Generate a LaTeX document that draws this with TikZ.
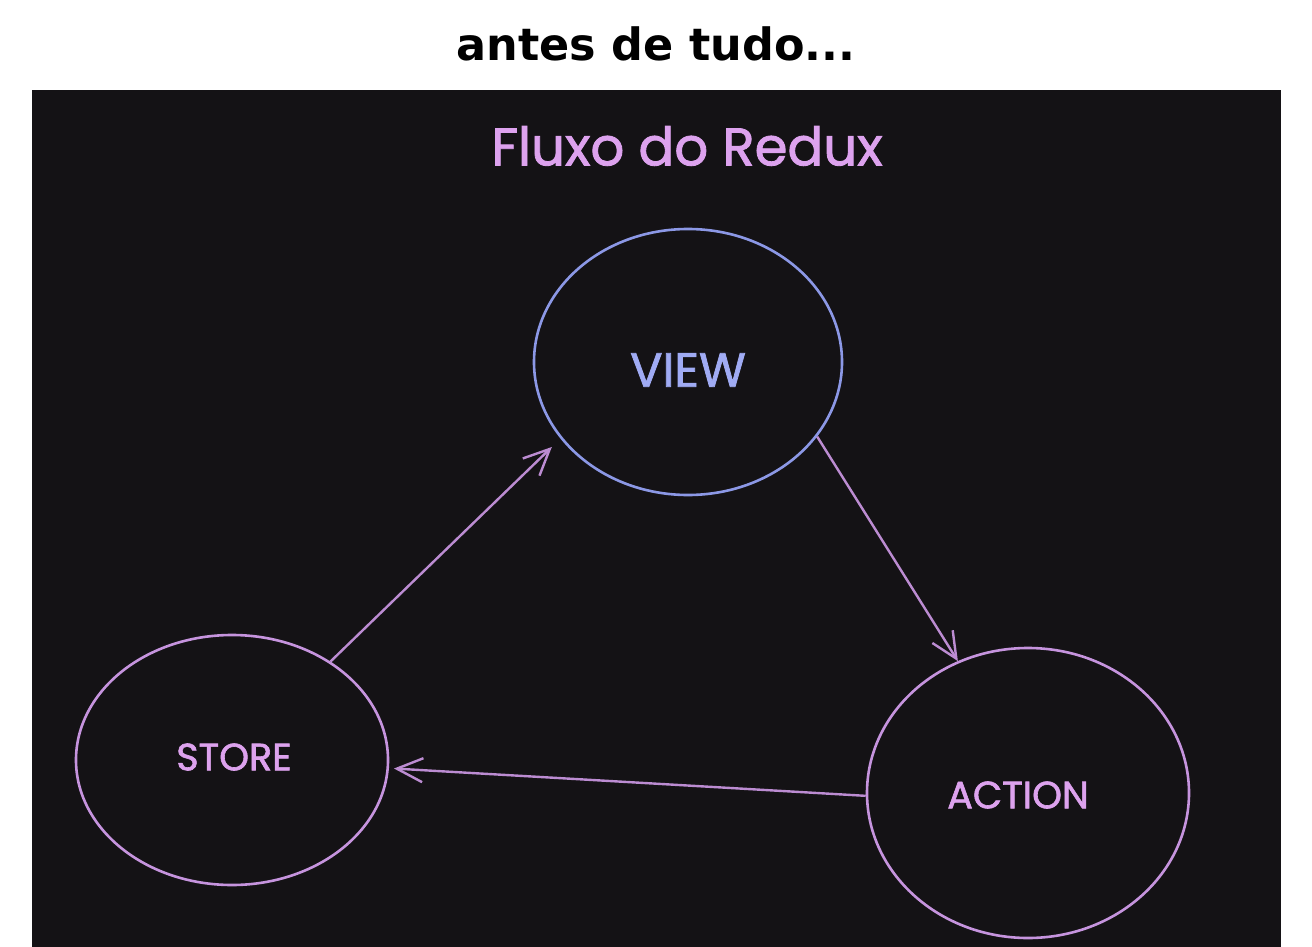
\documentclass[tikz,border=0pt]{standalone}
\usepackage{fontspec}
\setmainfont{DejaVu Sans}
\newfontfamily\handfont[FakeBold=1.6]{Poppins}
\usetikzlibrary{shapes.geometric,arrows.meta}
\definecolor{bgdark}{HTML}{141215}
\definecolor{pinktext}{HTML}{DDA2EE}
\definecolor{pinkline}{HTML}{C694DE}
\definecolor{arrowcol}{HTML}{BC8CD2}
\definecolor{bluetext}{HTML}{A0ABF4}
\definecolor{blueline}{HTML}{8C98E6}
\tikzset{
  bubble/.style={ellipse, draw=pinkline, line width=2.6pt, inner sep=0pt},
  lbl/.style={font=\handfont\fontsize{38}{40}\selectfont, text=pinktext, inner sep=0pt},
  flow/.style={draw=arrowcol, line width=2.4pt, -{Straight Barb[length=26pt,width=24pt,line width=2.4pt]}}
}
\begin{document}
\begin{tikzpicture}[x=1pt,y=-1pt]
\useasboundingbox (0,0) rectangle (1312,947);
\fill[white] (0,0) rectangle (1312,947);
\fill[bgdark] (32,90) rectangle (1281,947);
\node[font=\bfseries\fontsize{44.5}{46}\selectfont, inner sep=0pt] (title) at (656,44) {antes de tudo...};
\node[font=\handfont\fontsize{53}{56}\selectfont, text=pinktext, inner sep=0pt] (subtitle) at (687,146) {Fluxo do Redux};
\node[bubble, draw=blueline, minimum width=308pt, minimum height=266pt] (view) at (688,362) {};
\node[bubble, minimum width=312pt, minimum height=250pt] (store) at (232,760) {};
\node[bubble, minimum width=322pt, minimum height=290pt] (action) at (1028,793) {};
\node[lbl, text=bluetext, font=\handfont\fontsize{48}{50}\selectfont] (viewtxt) at ([shift={(0,8)}]view.center) {VIEW};
\node[lbl] (storetxt) at ([shift={(2,-3)}]store.center) {STORE};
\node[lbl] (actiontxt) at ([shift={(-10,2)}]action.center) {ACTION};
\draw[flow, shorten >=12pt] (store.45) -- (view.211);
\draw[flow] (view.330) -- (action.118);
\draw[flow, shorten >=5pt] (action.181) -- (store.357);
\end{tikzpicture}
\end{document}
